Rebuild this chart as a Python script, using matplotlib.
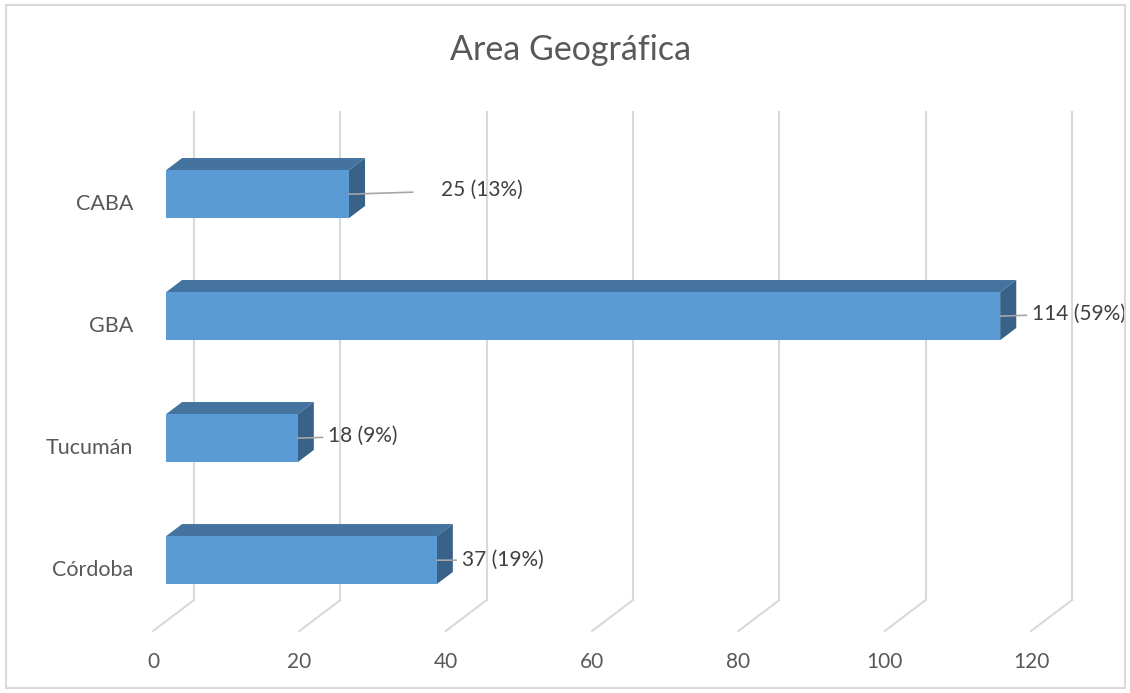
import matplotlib
matplotlib.use("Agg")
import matplotlib.pyplot as plt
from matplotlib.patches import Polygon, Rectangle

# data
categories = ["Córdoba", "Tucumán", "GBA", "CABA"]
values = [37, 18, 114, 25]
percents = [19, 9, 59, 13]
ticks = [0, 20, 40, 60, 80, 100, 120]
title = "Area Geográfica"

plt.rcParams['font.family'] = ['Lato', 'DejaVu Sans']

fig = plt.figure(figsize=(11.3, 6.93), dpi=100)
ax = fig.add_axes([0, 0, 1, 1])
ax.set_xlim(-20.91, 133.52)
ax.set_ylim(-1.008, 4.672)
ax.axis('off')

# oblique depth offset (value units, category units)
DX, DY = 5.6, 0.254
d_front, d_back = 0.317, 0.71
bar_h = 0.393
grid_col = '#D9D9D9'
txt_col = '#595959'

# back wall gridlines + floor diagonals
y_lo, y_hi = -0.5, len(categories) - 0.5
for t in ticks:
    ax.plot([t + DX, t + DX], [y_lo + DY, y_hi + DY], color=grid_col, lw=1.5, zorder=1)
    ax.plot([t, t + DX], [y_lo, y_lo + DY], color=grid_col, lw=1.5, zorder=1)
    ax.text(t, -0.755, str(t), ha='center', va='center', fontsize=15, color=txt_col)

# 3d-ish bars
front_c = '#5B9BD5'
top_c = '#44739F'
side_c = '#386288'
for k, (cat, v) in enumerate(zip(categories, values)):
    x0f, x0b = d_front * DX, d_back * DX
    yf, yb = k + d_front * DY, k + d_back * DY
    x1f, x1b = x0f + v, x0b + v
    top_f, bot_f = yf + bar_h / 2, yf - bar_h / 2
    top_b, bot_b = yb + bar_h / 2, yb - bar_h / 2
    ax.add_patch(Polygon([(x0f, top_f), (x1f, top_f), (x1b, top_b), (x0b, top_b)],
                         closed=True, fc=top_c, ec='none', zorder=3))
    ax.add_patch(Polygon([(x1f, bot_f), (x1f, top_f), (x1b, top_b), (x1b, bot_b)],
                         closed=True, fc=side_c, ec='none', zorder=3))
    ax.add_patch(Rectangle((x0f, bot_f), v, bar_h, fc=front_c, ec='none', zorder=4))
    ax.text(-2.7, k, cat, ha='right', va='center', fontsize=15.5, color=txt_col)

# data labels with leader lines (offset in points, gap before text)
label_off = [(18, 0), (22, 1.5), (23, 2), (66, 3)]
label_gap = [2, 2, 2, 18]
for k, (v, p, off, g) in enumerate(zip(values, percents, label_off, label_gap)):
    xe = d_front * DX + v
    ye = k + d_front * DY
    ax.annotate(f"{v} ({p}%)", xy=(xe, ye), xytext=off, textcoords='offset points',
                ha='left', va='center', fontsize=15, color='#404040', zorder=6,
                arrowprops=dict(arrowstyle='-', color='#A6A6A6', lw=1.2,
                                shrinkA=g, shrinkB=0))

ax.text(0.505, 0.928, title, transform=fig.transFigure, ha='center', va='center',
        fontsize=24.5, color=txt_col)

# chart border
fig.patches.append(Rectangle((6 / 1130, 5 / 693), 1119 / 1130, 683 / 693,
                             transform=fig.transFigure, fill=False,
                             ec='#D9D9D9', lw=1.5))

fig.savefig("out.png", dpi=100)
